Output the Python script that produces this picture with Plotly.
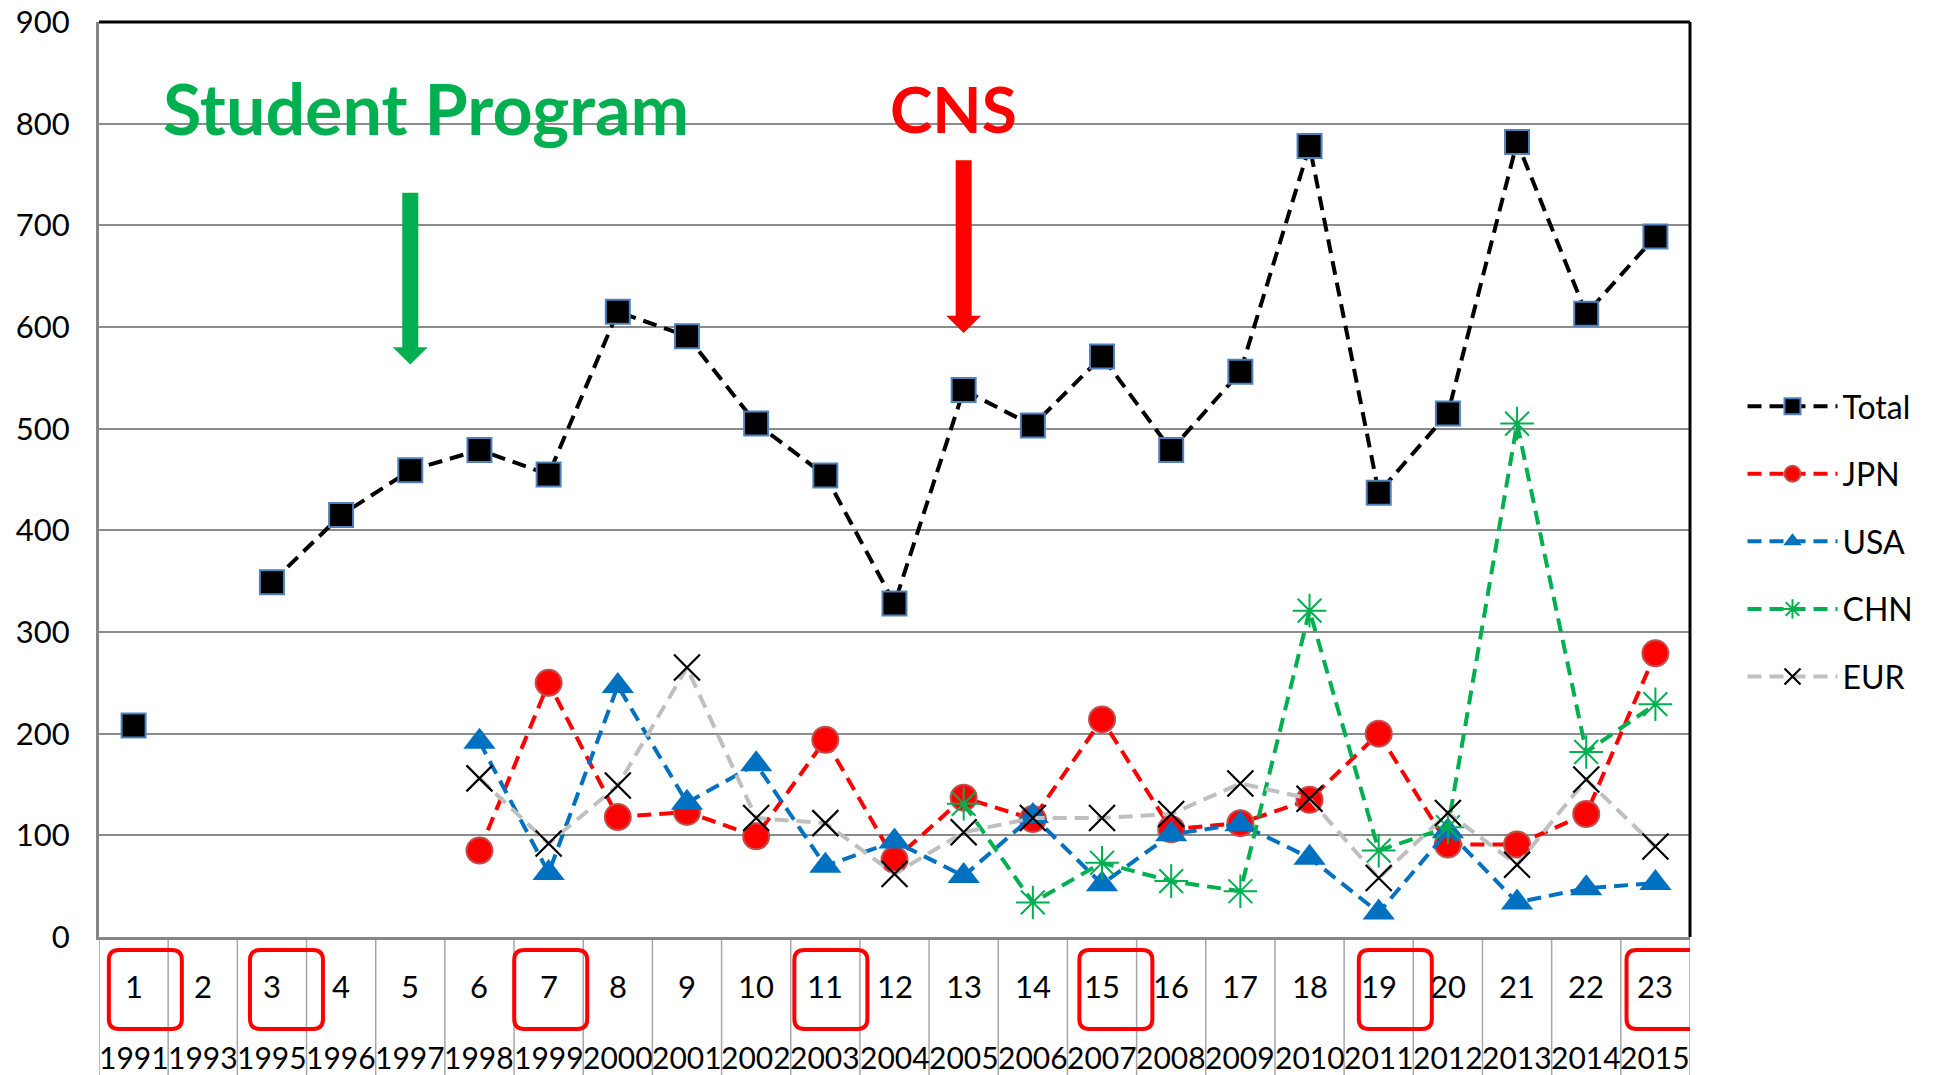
import plotly.graph_objects as go

# ---------------- data ----------------
sessions = list(range(1, 24))
session_labels = [str(s) for s in sessions]
years = ["1991", "1993", "1995", "1996", "1997", "1998", "1999", "2000", "2001", "2002",
         "2003", "2004", "2005", "2006", "2007", "2008", "2009", "2010", "2011", "2012",
         "2013", "2014", "2015"]

total = [208, None, 349, 415, 459, 479, 455, 615, 591, 505, 454, 328, 538, 503, 571,
         479, 556, 778, 437, 515, 782, 613, 689]
jpn = [None] * 5 + [85, 250, 118, 123, 99, 194, 76, 137, 116, 214, 106, 112, 135, 200,
                    91, 91, 121, 279]
usa = [None] * 5 + [192, 63, 247, 132, 170, 70, 94, 60, 119, 52, 101, 111, 78, 24,
                    104, 34, 48, 53]
chn = [None] * 12 + [131, 34, 73, 55, 45, 321, 85, 108, 505, 182, 229]
eur = [None] * 5 + [156, 92, 149, 265, 117, 112, 62, 103, 117, 117, 121, 151, 136, 58,
                    122, 71, 155, 89]

highlighted = [1, 3, 7, 11, 15, 19, 23]
y_ticks = list(range(0, 1000, 100))

# ---------------- styling ----------------
FONT = "Lato, 'Open Sans', sans-serif"
DASH = "14px,8px"
LW = 4

series = [
    dict(name="Total", y=total, color="black",
         marker=dict(symbol="square", size=24, color="black",
                     line=dict(color="#4F81BD", width=2))),
    dict(name="JPN", y=jpn, color="#FF0000",
         marker=dict(symbol="circle", size=26, color="#FF0000",
                     line=dict(color="#C0504D", width=2))),
    dict(name="USA", y=usa, color="#0070C0",
         marker=dict(symbol="triangle-up", size=28, color="#0070C0",
                     line=dict(width=0))),
    dict(name="CHN", y=chn, color="#00B050",
         marker=dict(symbol="asterisk-open", size=28, color="#00B050",
                     line=dict(color="#00B050", width=2))),
    dict(name="EUR", y=eur, color="#BFBFBF",
         marker=dict(symbol="x-thin-open", size=26, color="black",
                     line=dict(color="black", width=2.2))),
]

fig = go.Figure()
for s in series:
    fig.add_trace(go.Scatter(
        x=sessions, y=s["y"], name=s["name"], mode="lines+markers",
        line=dict(color=s["color"], width=LW, dash=DASH),
        marker=s["marker"], connectgaps=False,
        legendgroup=s["name"],
    ))

shapes = []
# frame: top and right black borders
shapes.append(dict(type="line", xref="paper", yref="paper", x0=0, x1=1, y0=1, y1=1,
                   line=dict(color="black", width=3)))
shapes.append(dict(type="line", xref="paper", yref="paper", x0=1, x1=1, y0=0, y1=1,
                   line=dict(color="black", width=3)))
# category separators below the axis
for k in range(len(sessions) + 1):
    shapes.append(dict(type="line", xref="x", yref="paper", x0=k + 0.5, x1=k + 0.5,
                       y0=0, y1=-0.16, line=dict(color="#A6A6A6", width=1.5),
                       layer="below"))

# rounded red boxes (pixel path, anchored at category)
box_offsets = {1: 0.17, 3: 0.21, 7: 0.03, 11: 0.08, 15: 0.2, 19: 0.24, 23: 0.11}
hw, yt, yb, r = 36.5, -13, -92, 10


def rounded_rect(hw, yt, yb, r):
    return (f"M {-hw + r},{yt} L {hw - r},{yt} Q {hw},{yt} {hw},{yt - r} "
            f"L {hw},{yb + r} Q {hw},{yb} {hw - r},{yb} L {-hw + r},{yb} "
            f"Q {-hw},{yb} {-hw},{yb + r} L {-hw},{yt - r} Q {-hw},{yt} {-hw + r},{yt} Z")


for s in highlighted:
    shapes.append(dict(type="path", xref="x", yref="paper",
                       xsizemode="pixel", ysizemode="pixel",
                       xanchor=s + box_offsets[s], yanchor=0,
                       path=rounded_rect(hw, yt, yb, r),
                       line=dict(color="#FF0000", width=4)))


def arrow_path(tip, base, top, shaft=8, head=17.5):
    return (f"M 0,{tip} L {head},{base} L {shaft},{base} L {shaft},{top} "
            f"L {-shaft},{top} L {-shaft},{base} L {-head},{base} Z")


shapes.append(dict(type="path", xref="x", yref="y", xsizemode="pixel", xanchor=5,
                   path=arrow_path(563, 580, 732), fillcolor="#00B050",
                   line=dict(width=0)))
shapes.append(dict(type="path", xref="x", yref="y", xsizemode="pixel", xanchor=13,
                   path=arrow_path(594, 611, 764), fillcolor="#FF0000",
                   line=dict(width=0)))

annotations = []
for s, lab, yr in zip(sessions, session_labels, years):
    annotations.append(dict(x=s, y=0, xref="x", yref="paper", text=lab, showarrow=False,
                            yshift=-49, yanchor="middle",
                            font=dict(family=FONT, size=31, color="black")))
    annotations.append(dict(x=s, y=0, xref="x", yref="paper", text=yr, showarrow=False,
                            yshift=-120, yanchor="middle",
                            font=dict(family=FONT, size=30, color="black")))

annotations.append(dict(x=5.23, y=815, xref="x", yref="y", text="<b>Student Program</b>",
                        showarrow=False, yanchor="middle",
                        font=dict(family=FONT, size=70, color="#00B050")))
annotations.append(dict(x=12.86, y=815, xref="x", yref="y", text="<b>CNS</b>",
                        showarrow=False, yanchor="middle",
                        font=dict(family=FONT, size=64, color="#FF0000")))

fig.update_layout(
    width=1934, height=1075,
    margin=dict(l=99, r=244, t=22, b=138, autoexpand=False),
    plot_bgcolor="white", paper_bgcolor="white",
    font=dict(family=FONT, size=30, color="black"),
    shapes=shapes, annotations=annotations,
    showlegend=True,
    legend=dict(x=1.033, xanchor="left", y=0.61, yanchor="top",
                traceorder="grouped", tracegroupgap=23, itemwidth=90,
                font=dict(family=FONT, size=32, color="black"),
                bgcolor="rgba(0,0,0,0)"),
)
fig.update_xaxes(range=[0.5, 23.5], showticklabels=False, showgrid=False,
                 zeroline=False, showline=True, linecolor="#868686", linewidth=3,
                 ticks="", automargin=False)
fig.update_yaxes(range=[0, 900], tickvals=y_ticks, showgrid=True, gridcolor="#8C8C8C",
                 gridwidth=2, zeroline=False, showline=True, linecolor="#868686",
                 linewidth=3, ticks="", ticklabelstandoff=20, automargin=False,
                 ticklabeloverflow="allow",
                 tickfont=dict(family=FONT, size=31, color="black"))

# remove the default page margin so the figure sits at the window's top-left corner
fig.write_html("out.html",
               config={"displayModeBar": False},
               post_script="document.body.style.margin='0';"
                           "document.body.style.overflow='hidden';")
